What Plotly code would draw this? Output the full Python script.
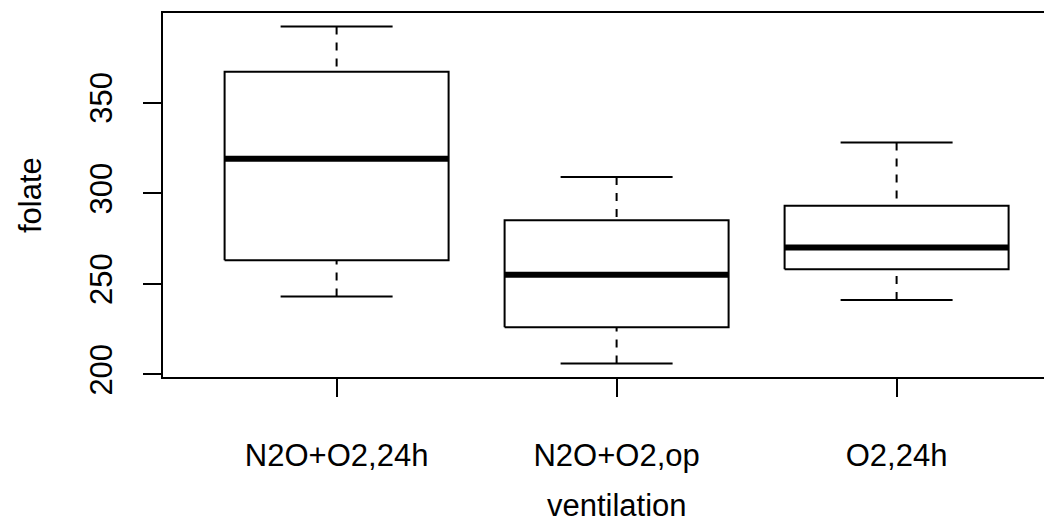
import numpy as np
import plotly.graph_objects as go

# ---- data ----
groups = ["N2O+O2,24h", "N2O+O2,op", "O2,24h"]
folate_n2o_o2_24h = [243, 251, 275, 291, 347, 354, 380, 392]
folate_n2o_o2_op = [206, 210, 226, 249, 255, 273, 285, 295, 309]
folate_o2_24h = [241, 258, 270, 293, 328]
y_ticks = [200, 250, 300, 350]
x_title = "ventilation"
y_title = "folate"

values = [folate_n2o_o2_24h, folate_n2o_o2_op, folate_o2_24h]


def fivenum(v):
    x = sorted(v)
    n = len(x)
    n4 = np.floor((n + 3) / 2) / 2
    d = [1, n4, (n + 1) / 2, n + 1 - n4, n]
    return [0.5 * (x[int(np.floor(di)) - 1] + x[int(np.ceil(di)) - 1]) for di in d]


FONT = "Liberation Sans, Arial, sans-serif"
FS = 31
BLACK = "#000000"

fig = go.Figure()
half = 0.4      # half box width (boxwex 0.8)
staple = 0.2    # half staple width
positions = list(range(1, len(groups) + 1))

for pos, vals in zip(positions, values):
    lo, q1, med, q3, hi = fivenum(vals)
    common = dict(mode="lines", showlegend=False, hoverinfo="skip")
    # whiskers (dashed), drawn from whisker end to hinge
    fig.add_trace(go.Scatter(x=[pos, pos], y=[lo, q1],
                             line=dict(color=BLACK, width=2, dash="8px,8px"), **common))
    fig.add_trace(go.Scatter(x=[pos, pos], y=[hi, q3],
                             line=dict(color=BLACK, width=2, dash="8px,8px"), **common))
    # staples
    fig.add_trace(go.Scatter(x=[pos - staple, pos + staple], y=[lo, lo],
                             line=dict(color=BLACK, width=2), **common))
    fig.add_trace(go.Scatter(x=[pos - staple, pos + staple], y=[hi, hi],
                             line=dict(color=BLACK, width=2), **common))
    # box
    fig.add_trace(go.Scatter(x=[pos - half, pos + half, pos + half, pos - half, pos - half],
                             y=[q1, q1, q3, q3, q1],
                             line=dict(color=BLACK, width=2), **common))
    # median
    fig.add_trace(go.Scatter(x=[pos - half, pos + half], y=[med, med],
                             line=dict(color=BLACK, width=6), **common))

# axis ranges like R (4% extension)
all_vals = [v for g in values for v in g]
ymin, ymax = min(all_vals), max(all_vals)
yr = ymax - ymin
y_range = [ymin - 0.04 * yr, ymax + 0.04 * yr]
x_lo = 0.5 - 0.04 * len(groups)

# page has an 8px body margin; size the figure so it fits the 1052x527 window
W, H = 1044, 519
ML, MT, MB = 155, 5, 150
px_per_unit = 280.0
x_range = [x_lo, x_lo + (W - ML) / px_per_unit]

fig.update_layout(
    width=W, height=H,
    margin=dict(l=ML, r=0, t=MT, b=MB, pad=0),
    paper_bgcolor="white", plot_bgcolor="white",
    font=dict(family=FONT, size=FS, color=BLACK),
    xaxis=dict(range=x_range, tickmode="array", tickvals=positions, ticktext=groups,
               ticks="outside", ticklen=18, tickwidth=2, tickcolor=BLACK,
               showline=True, linewidth=2, linecolor=BLACK, mirror=True,
               showgrid=False, zeroline=False, ticklabelstandoff=32,
               tickfont=dict(family=FONT, size=FS, color=BLACK)),
    yaxis=dict(range=y_range, tickmode="array", tickvals=y_ticks,
               tickangle=-90, ticks="outside", ticklen=18, tickwidth=2, tickcolor=BLACK,
               showline=True, linewidth=2, linecolor=BLACK, mirror=False,
               showgrid=False, zeroline=False, ticklabelstandoff=19,
               tickfont=dict(family=FONT, size=FS, color=BLACK)),
    annotations=[
        dict(text=x_title, xref="x", x=float(np.mean(positions)), yref="paper", y=0,
             yanchor="middle", xanchor="center", yshift=-128, showarrow=False,
             font=dict(family=FONT, size=FS, color=BLACK)),
        dict(text=y_title, xref="paper", x=0, yref="paper", y=0.5, textangle=-90,
             xanchor="center", yanchor="middle", xshift=-133, showarrow=False,
             font=dict(family=FONT, size=FS, color=BLACK)),
    ],
)

fig.write_html("out.html")
